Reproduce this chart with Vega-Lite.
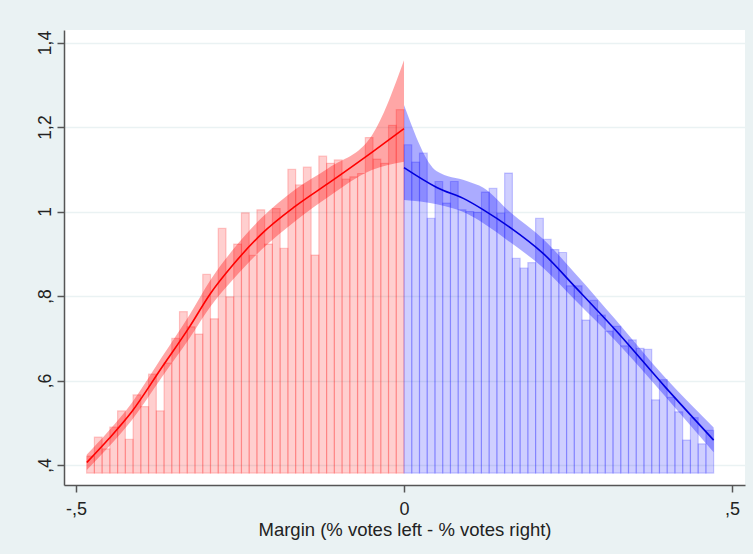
{
  "$schema": "https://vega.github.io/schema/vega-lite/v6.json",
  "width": 681,
  "height": 455,
  "autosize": {"type": "none"},
  "padding": {"left": 64, "top": 30, "right": 8, "bottom": 69},
  "background": "#EAF2F3",
  "config": {
    "view": {"fill": "white", "stroke": null},
    "font": "Liberation Sans",
    "axis": {
      "domainColor": "#555555",
      "domainWidth": 1.5,
      "tickColor": "#555555",
      "tickWidth": 1.5,
      "tickSize": 7,
      "labelColor": "#222222",
      "titleColor": "#222222",
      "titleFontWeight": "normal",
      "labelExpr": "replace(replace(toString(datum.value), '0.', '.'), '.', ',')"
    },
    "axisX": {"grid": false, "labelFontSize": 18, "labelPadding": 8, "titleFontSize": 18.5, "titlePadding": 2},
    "axisY": {
      "grid": true,
      "gridColor": "#EAF2F3",
      "gridWidth": 1.5,
      "labelFontSize": 17.5,
      "labelAngle": -90,
      "labelAlign": "center",
      "labelBaseline": "alphabetic",
      "labelPadding": 7
    }
  },
  "datasets": {
    "leftBins": [
      {"x": -0.4838, "x2": -0.4720, "y": 0.421},
      {"x": -0.4720, "x2": -0.4602, "y": 0.466},
      {"x": -0.4602, "x2": -0.4484, "y": 0.438},
      {"x": -0.4484, "x2": -0.4366, "y": 0.49},
      {"x": -0.4366, "x2": -0.4248, "y": 0.528},
      {"x": -0.4248, "x2": -0.4130, "y": 0.461},
      {"x": -0.4130, "x2": -0.4012, "y": 0.566},
      {"x": -0.4012, "x2": -0.3894, "y": 0.538},
      {"x": -0.3894, "x2": -0.3776, "y": 0.615},
      {"x": -0.3776, "x2": -0.3658, "y": 0.528},
      {"x": -0.3658, "x2": -0.3540, "y": 0.641},
      {"x": -0.3540, "x2": -0.3422, "y": 0.70},
      {"x": -0.3422, "x2": -0.3304, "y": 0.763},
      {"x": -0.3304, "x2": -0.3186, "y": 0.727},
      {"x": -0.3186, "x2": -0.3068, "y": 0.71},
      {"x": -0.3068, "x2": -0.2950, "y": 0.851},
      {"x": -0.2950, "x2": -0.2832, "y": 0.746},
      {"x": -0.2832, "x2": -0.2714, "y": 0.96},
      {"x": -0.2714, "x2": -0.2596, "y": 0.798},
      {"x": -0.2596, "x2": -0.2478, "y": 0.923},
      {"x": -0.2478, "x2": -0.2360, "y": 0.997},
      {"x": -0.2360, "x2": -0.2242, "y": 0.896},
      {"x": -0.2242, "x2": -0.2124, "y": 1.004},
      {"x": -0.2124, "x2": -0.2006, "y": 0.923},
      {"x": -0.2006, "x2": -0.1888, "y": 1.007},
      {"x": -0.1888, "x2": -0.1770, "y": 0.913},
      {"x": -0.1770, "x2": -0.1652, "y": 1.10},
      {"x": -0.1652, "x2": -0.1534, "y": 1.063},
      {"x": -0.1534, "x2": -0.1416, "y": 1.105},
      {"x": -0.1416, "x2": -0.1298, "y": 0.897},
      {"x": -0.1298, "x2": -0.1180, "y": 1.131},
      {"x": -0.1180, "x2": -0.1062, "y": 1.114},
      {"x": -0.1062, "x2": -0.0944, "y": 1.122},
      {"x": -0.0944, "x2": -0.0826, "y": 1.077},
      {"x": -0.0826, "x2": -0.0708, "y": 1.082},
      {"x": -0.0708, "x2": -0.0590, "y": 1.09},
      {"x": -0.0590, "x2": -0.0472, "y": 1.175},
      {"x": -0.0472, "x2": -0.0354, "y": 1.124},
      {"x": -0.0354, "x2": -0.0236, "y": 1.114},
      {"x": -0.0236, "x2": -0.0118, "y": 1.204},
      {"x": -0.0118, "x2": 0.0, "y": 1.241}
    ],
    "rightBins": [
      {"x": 0.0, "x2": 0.0118, "y": 1.158},
      {"x": 0.0118, "x2": 0.0236, "y": 1.117},
      {"x": 0.0236, "x2": 0.0354, "y": 1.138},
      {"x": 0.0354, "x2": 0.0472, "y": 0.984},
      {"x": 0.0472, "x2": 0.0590, "y": 1.071},
      {"x": 0.0590, "x2": 0.0708, "y": 1.02},
      {"x": 0.0708, "x2": 0.0826, "y": 1.071},
      {"x": 0.0826, "x2": 0.0944, "y": 1.004},
      {"x": 0.0944, "x2": 0.1062, "y": 1.0},
      {"x": 0.1062, "x2": 0.1180, "y": 0.998},
      {"x": 0.1180, "x2": 0.1298, "y": 1.046},
      {"x": 0.1298, "x2": 0.1416, "y": 1.055},
      {"x": 0.1416, "x2": 0.1534, "y": 0.996},
      {"x": 0.1534, "x2": 0.1652, "y": 1.091},
      {"x": 0.1652, "x2": 0.1770, "y": 0.889},
      {"x": 0.1770, "x2": 0.1888, "y": 0.866},
      {"x": 0.1888, "x2": 0.2006, "y": 0.879},
      {"x": 0.2006, "x2": 0.2124, "y": 0.984},
      {"x": 0.2124, "x2": 0.2242, "y": 0.934},
      {"x": 0.2242, "x2": 0.2360, "y": 0.91},
      {"x": 0.2360, "x2": 0.2478, "y": 0.903},
      {"x": 0.2478, "x2": 0.2596, "y": 0.824},
      {"x": 0.2596, "x2": 0.2714, "y": 0.824},
      {"x": 0.2714, "x2": 0.2832, "y": 0.743},
      {"x": 0.2832, "x2": 0.2950, "y": 0.79},
      {"x": 0.2950, "x2": 0.3068, "y": 0.755},
      {"x": 0.3068, "x2": 0.3186, "y": 0.717},
      {"x": 0.3186, "x2": 0.3304, "y": 0.728},
      {"x": 0.3304, "x2": 0.3422, "y": 0.682},
      {"x": 0.3422, "x2": 0.3540, "y": 0.696},
      {"x": 0.3540, "x2": 0.3658, "y": 0.676},
      {"x": 0.3658, "x2": 0.3776, "y": 0.674},
      {"x": 0.3776, "x2": 0.3894, "y": 0.554},
      {"x": 0.3894, "x2": 0.4012, "y": 0.602},
      {"x": 0.4012, "x2": 0.4130, "y": 0.56},
      {"x": 0.4130, "x2": 0.4248, "y": 0.526},
      {"x": 0.4248, "x2": 0.4366, "y": 0.459},
      {"x": 0.4366, "x2": 0.4484, "y": 0.512},
      {"x": 0.4484, "x2": 0.4602, "y": 0.45},
      {"x": 0.4602, "x2": 0.4720, "y": 0.482}
    ],
    "leftFit": [
      {"x": -0.4835, "y": 0.406, "lo": 0.388, "hi": 0.425},
      {"x": -0.45, "y": 0.462, "lo": 0.443, "hi": 0.481},
      {"x": -0.415, "y": 0.526, "lo": 0.506, "hi": 0.547},
      {"x": -0.37, "y": 0.629, "lo": 0.606, "hi": 0.653},
      {"x": -0.327, "y": 0.727, "lo": 0.70, "hi": 0.755},
      {"x": -0.295, "y": 0.806, "lo": 0.775, "hi": 0.838},
      {"x": -0.26, "y": 0.875, "lo": 0.84, "hi": 0.911},
      {"x": -0.217, "y": 0.947, "lo": 0.91, "hi": 0.985},
      {"x": -0.166, "y": 1.012, "lo": 0.977, "hi": 1.052},
      {"x": -0.115, "y": 1.067, "lo": 1.035, "hi": 1.103},
      {"x": -0.049, "y": 1.14, "lo": 1.098, "hi": 1.18},
      {"x": 0.0, "y": 1.196, "lo": 1.118, "hi": 1.358}
    ],
    "rightFit": [
      {"x": 0.0, "y": 1.104, "lo": 1.027, "hi": 1.252},
      {"x": 0.05, "y": 1.057, "lo": 1.017, "hi": 1.095},
      {"x": 0.0956, "y": 1.027, "lo": 0.995, "hi": 1.072},
      {"x": 0.121, "y": 1.004, "lo": 0.972, "hi": 1.056},
      {"x": 0.162, "y": 0.962, "lo": 0.927, "hi": 0.998},
      {"x": 0.212, "y": 0.901, "lo": 0.867, "hi": 0.935},
      {"x": 0.263, "y": 0.818, "lo": 0.787, "hi": 0.85},
      {"x": 0.322, "y": 0.72, "lo": 0.695, "hi": 0.745},
      {"x": 0.398, "y": 0.585, "lo": 0.563, "hi": 0.607},
      {"x": 0.472, "y": 0.459, "lo": 0.43, "hi": 0.489}
    ]
  },
  "layer": [
    {
      "data": {"name": "leftBins"},
      "mark": {"type": "rect", "fill": "#ff0000", "fillOpacity": 0.19, "stroke": "#ff0000", "strokeOpacity": 0.2, "strokeWidth": 1.2},
      "encoding": {
        "x": {
          "field": "x", "type": "quantitative",
          "scale": {"domain": [-0.5183, 0.5198], "nice": false, "zero": false},
          "axis": {"values": [-0.5, 0, 0.5], "title": "Margin (% votes left - % votes right)"}
        },
        "x2": {"field": "x2"},
        "y": {
          "field": "y", "type": "quantitative",
          "scale": {"domain": [0.3527, 1.4296], "nice": false, "zero": false},
          "axis": {"values": [0.4, 0.6, 0.8, 1, 1.2, 1.4], "title": null}
        },
        "y2": {"datum": 0.381}
      }
    },
    {
      "data": {"name": "rightBins"},
      "mark": {"type": "rect", "fill": "#0000ff", "fillOpacity": 0.19, "stroke": "#0000ff", "strokeOpacity": 0.2, "strokeWidth": 1.2},
      "encoding": {
        "x": {"field": "x", "type": "quantitative"},
        "x2": {"field": "x2"},
        "y": {"field": "y", "type": "quantitative"},
        "y2": {"datum": 0.381}
      }
    },
    {
      "data": {"name": "leftFit"},
      "mark": {"type": "area", "color": "#ff0000", "opacity": 0.35, "interpolate": "monotone"},
      "encoding": {
        "x": {"field": "x", "type": "quantitative"},
        "y": {"field": "lo", "type": "quantitative"},
        "y2": {"field": "hi"}
      }
    },
    {
      "data": {"name": "rightFit"},
      "mark": {"type": "area", "color": "#0000ff", "opacity": 0.33, "interpolate": "monotone"},
      "encoding": {
        "x": {"field": "x", "type": "quantitative"},
        "y": {"field": "lo", "type": "quantitative"},
        "y2": {"field": "hi"}
      }
    },
    {
      "data": {"name": "leftFit"},
      "mark": {"type": "line", "color": "#ff0000", "strokeWidth": 1.6, "interpolate": "monotone"},
      "encoding": {
        "x": {"field": "x", "type": "quantitative"},
        "y": {"field": "y", "type": "quantitative"}
      }
    },
    {
      "data": {"name": "rightFit"},
      "mark": {"type": "line", "color": "#0000dd", "strokeWidth": 1.6, "interpolate": "monotone"},
      "encoding": {
        "x": {"field": "x", "type": "quantitative"},
        "y": {"field": "y", "type": "quantitative"}
      }
    },
    {
      "mark": {"type": "rule", "color": "#555555", "strokeWidth": 1.5},
      "encoding": {"x": {"datum": 0}}
    }
  ]
}
